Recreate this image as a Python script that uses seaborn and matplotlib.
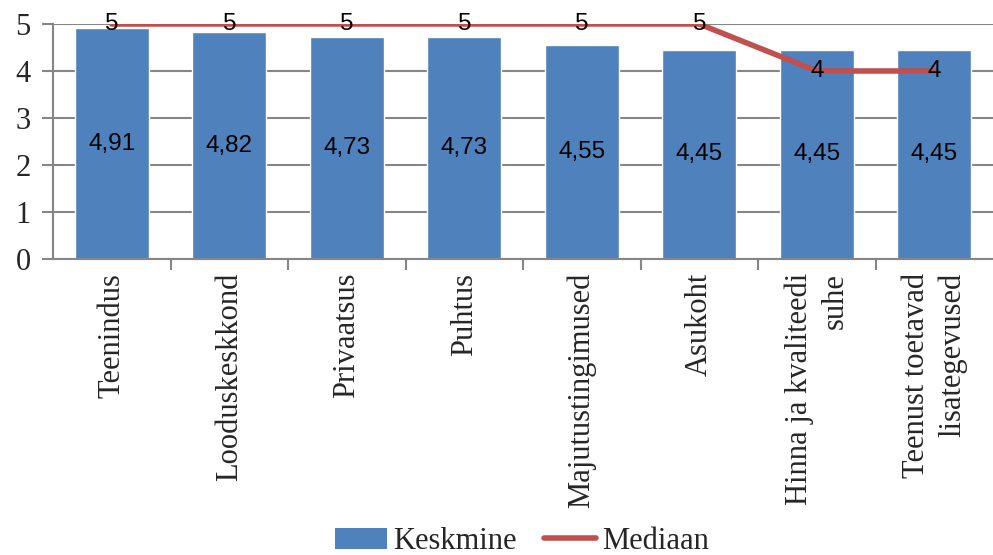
import numpy as np
import pandas as pd
import matplotlib
matplotlib.use("Agg")
import matplotlib.pyplot as plt
from matplotlib.patches import Patch
from matplotlib.lines import Line2D
from matplotlib.ticker import FixedLocator
import seaborn as sns

categories = ["Teenindus", "Looduskeskkond", "Privaatsus", "Puhtus",
              "Majutustingimused", "Asukoht", "Hinna ja kvaliteedi\nsuhe",
              "Teenust toetavad\nlisategevused"]
means = [4.91, 4.82, 4.73, 4.73, 4.55, 4.45, 4.45, 4.45]
medians = [5, 5, 5, 5, 5, 5, 4, 4]
yticks = [0, 1, 2, 3, 4, 5]

bar_color = "#4F81BD"
line_color = "#C0504D"
grid_color = "#868686"
serif = ["Liberation Serif", "DejaVu Serif"]
sans = ["Liberation Sans", "DejaVu Sans"]

sns.set_theme(style="white")
plt.rcParams["font.family"] = serif

df = pd.DataFrame({"kategooria": categories, "keskmine": means, "mediaan": medians})

fig = plt.figure(figsize=(9.93, 5.55), dpi=100)
ax = fig.add_axes([0.0534, 0.5333, 0.9466, 0.4235])

sns.barplot(data=df, x="kategooria", y="keskmine", color=bar_color,
            width=0.63, saturation=1, ax=ax, zorder=2)
sns.lineplot(x=np.arange(len(categories)), y=df["mediaan"], color=line_color,
             linewidth=4, ax=ax, zorder=3)

# value labels: means centred in the bars, medians on the line
for i, (m, md) in enumerate(zip(means, medians)):
    ax.text(i, m / 2, f"{m:.2f}".replace(".", ","), ha="center", va="center",
            fontsize=17.5, family=sans, color="black", zorder=4)
    ax.text(i, md, f"{md}", ha="center", va="center",
            fontsize=17.5, family=sans, color="black", zorder=4)

ax.set_xlim(-0.5, len(categories) - 0.5)
ax.set_ylim(0, 5)
ax.set_yticks(yticks)
ax.set_yticklabels([str(t) for t in yticks], fontsize=22)
ax.yaxis.grid(True, color=grid_color, linewidth=1.5, zorder=0)
ax.set_axisbelow(True)
ax.set_xlabel("")
ax.set_ylabel("")

ax.set_xticks(np.arange(len(categories)))
ax.set_xticklabels(categories, rotation=90, fontsize=22, linespacing=1.3,
                   va="top", ha="center", multialignment="right")
ax.tick_params(axis="x", which="major", length=0, pad=10)
ax.xaxis.set_minor_locator(FixedLocator(np.arange(0.5, len(categories) - 0.5, 1)))
ax.tick_params(axis="x", which="minor", bottom=True, length=8, width=1.5,
               color=grid_color, direction="out")
ax.tick_params(axis="y", left=True, length=8, width=1.5, color=grid_color,
               direction="out", pad=8)

for side in ["top", "right"]:
    ax.spines[side].set_visible(False)
for side in ["left", "bottom"]:
    ax.spines[side].set_color(grid_color)
    ax.spines[side].set_linewidth(1.5)

handles = [Patch(facecolor=bar_color, edgecolor="none", label="Keskmine"),
           Line2D([0], [0], color=line_color, linewidth=4, label="Mediaan")]
fig.legend(handles=handles, loc="center", bbox_to_anchor=(0.526, 0.024),
           ncol=2, frameon=False, fontsize=22, handlelength=1.7,
           handletextpad=0.2, columnspacing=0.9, borderpad=0)

fig.savefig("out.png", dpi=100)
